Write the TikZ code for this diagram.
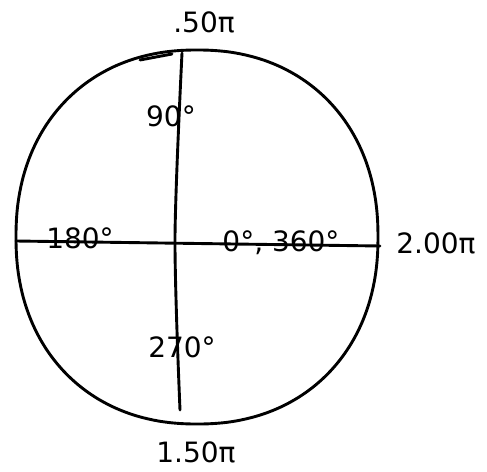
\documentclass[tikz,border=0pt]{standalone}
\usepackage{fontspec}
\usepackage{tikz}
\usetikzlibrary{positioning, calc}
\newfontfamily\handfont{DejaVu Sans}

\begin{document}
\begin{tikzpicture}[x=1pt, y=-1pt,
    pen/.style={line width=2.9pt, line cap=round, line join=round},
    lbl/.style={font=\handfont\fontsize{28}{30}\selectfont, inner sep=1pt}]
    \useasboundingbox (0,0) rectangle (487,471);

    % 圆（手绘，稍方）
    \draw[pen] plot[domain=0.5:359.5, samples=120, smooth]
        ({197+181*sign(cos(\x))*abs(cos(\x))^0.92},
         {237-187*sign(sin(\x))*abs(sin(\x))^0.92}) -- cycle;
    \draw[pen] (140,60) -- (172,54);

    % 坐标轴
    \coordinate (w) at (16,241);
    \coordinate (e) at (380,246);
    \coordinate (n) at (182,53);
    \coordinate (c) at (175,238);
    \coordinate (s) at (180,410);
    \draw[pen] plot[smooth] coordinates {(n) (c) (s)};
    \draw[pen] (w) -- (e);

    % 角度
    \node[lbl] (top) at (204,22) {.50π};
    \node[lbl] (d90) at (171,116) {90°};
    \node[lbl] (d180) at (80,238) {180°};
    \node[lbl] (d0) at (281,243) {0°, 360°};
    \node[lbl] (right) at (436,243) {2.00π};
    \node[lbl] (d270) at (182,347) {270°};
    \node[lbl] (bot) at (196,452) {1.50π};
\end{tikzpicture}
\end{document}
